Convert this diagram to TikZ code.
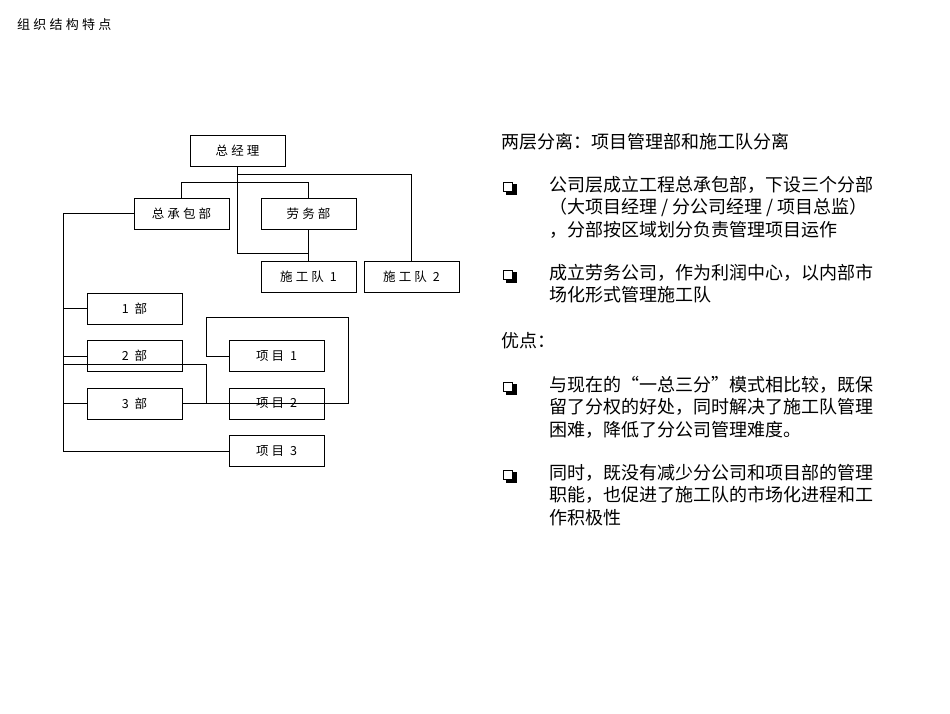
\documentclass[tikz,border=0pt]{standalone}
\usepackage{fontspec}
\setmainfont{Liberation Serif}
\newfontfamily\cjk{Noto Sans CJK SC}
\newfontfamily\cjkw[LetterSpace=25]{Noto Sans CJK SC}
\begin{document}
\begin{tikzpicture}[x=1pt,y=-1pt,
  bx/.style={draw,line width=0.7pt,minimum width=95pt,minimum height=31pt,inner sep=0pt,font=\cjkw\fontsize{12.5}{14}\selectfont},
  ln/.style={line width=0.7pt},
  txt/.style={anchor=north west,inner sep=0pt,align=left,font=\cjk\fontsize{18}{22.5}\selectfont},
  bul/.style={draw,line width=1pt,minimum size=9pt,inner sep=0pt}]
\useasboundingbox (0,0) rectangle (950,713);
\node[anchor=west,inner sep=0pt,font=\cjkw\fontsize{13}{14}\selectfont] (hd) at (17,25) {组织结构特点};
\node[bx] (gm) at (237.5,150.5) {总经理};
\node[bx] (zc) at (181.5,213.5) {总承包部};
\node[bx] (lw) at (308.5,213.5) {劳务部};
\node[bx] (s1) at (308.5,277) {施工队 1};
\node[bx] (s2) at (411.5,277) {施工队 2};
\node[bx] (b1) at (134.5,308.5) {1 部};
\node[bx] (b2) at (134.5,356) {2 部};
\node[bx] (b3) at (134.5,403.5) {3 部};
\node[bx] (p1) at (276.5,356) {项目 1};
\node[bx] (p2) at (276.5,403.5) {项目 2};
\node[bx] (p3) at (276.5,451) {项目 3};
\coordinate (gb) at (237.5,166);
\draw[ln] (gb) -- (237.5,174) -| (s2.north);
\draw[ln] (zc.north) |- (308.5,182) -- (lw.north);
\draw[ln] (gb) -- (237.5,253) -| (lw.south);
\draw[ln] (lw.south) -- (s1.north);
\draw[ln] (zc.west) -- (63,213.5) |- (p3.west);
\draw[ln] (63,308.5) -- (b1.west);
\draw[ln] (63,356) -- (b2.west);
\draw[ln] (63,403.5) -- (b3.west);
\draw[ln] (63,364) -- (206,364) -- (206,403.5);
\draw[ln] (b3.east) -- (348,403.5) -- (348,317) -- (206,317) -- (206,356) -- (p1.west);
% right text
\node[txt] (t0) at (501,133) {两层分离：项目管理部和施工队分离};
\foreach \n/\y in {q1/187,q2/275,q3/387,q4/475}{
  \fill (510,\y) ++(-4.5,-3.5) rectangle ++(11,11);
  \node[bul,fill=white] (\n) at (508,\y) {};
}
\node[txt] (t1) at (549,176) {公司层成立工程总承包部，下设三个分部\\（大项目经理 / 分公司经理 / 项目总监）\\，分部按区域划分负责管理项目运作};
\node[txt] (t2) at (549,264) {成立劳务公司，作为利润中心，以内部市\\场化形式管理施工队};
\node[txt] (t3) at (501,332) {优点：};
\node[txt] (t4) at (549,376) {与现在的“一总三分”模式相比较，既保\\留了分权的好处，同时解决了施工队管理\\困难，降低了分公司管理难度。};
\node[txt] (t5) at (549,464) {同时，既没有减少分公司和项目部的管理\\职能，也促进了施工队的市场化进程和工\\作积极性};
\end{tikzpicture}
\end{document}
